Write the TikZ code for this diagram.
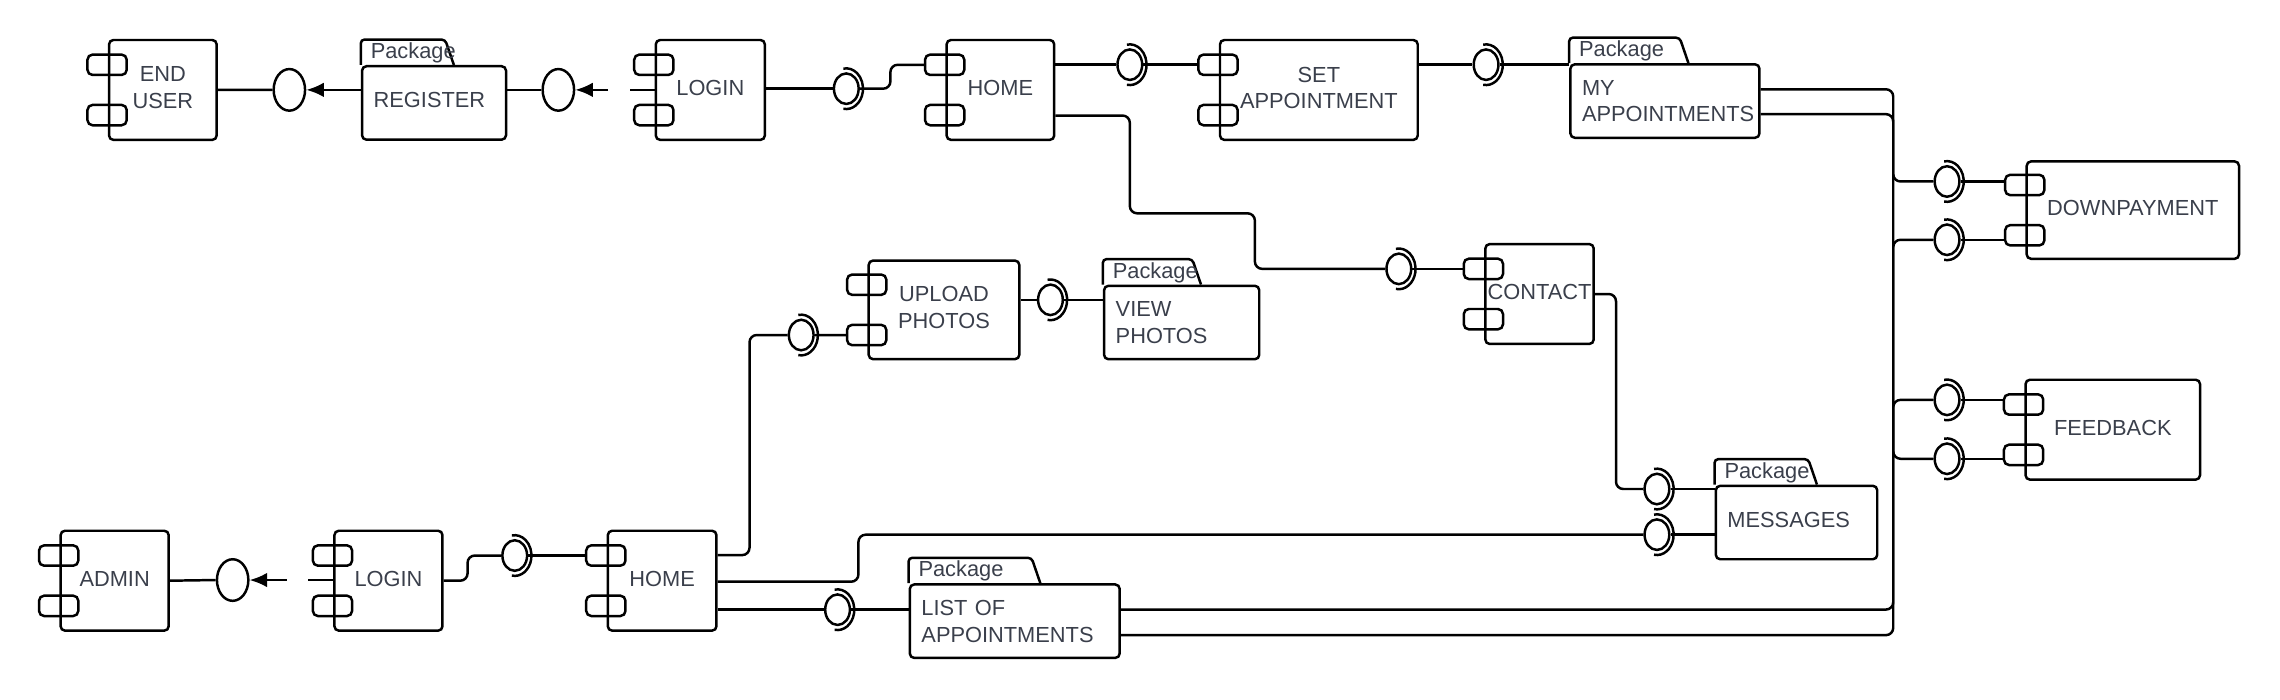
\documentclass[tikz,border=0pt]{standalone}
\usepackage{fontspec}
\setmainfont{Liberation Sans}
\usetikzlibrary{shapes.geometric}
\usetikzlibrary{arrows.meta}
\usetikzlibrary{positioning}
\definecolor{labelgray}{RGB}{58,63,75}
\tikzset{>={Latex[length=12pt,width=10pt]}}
\newcommand{\lbl}{\fontsize{15}{18.3}\selectfont}
\tikzset{
  comp/.style={draw, rounded corners=3pt, align=center, inner sep=0pt, minimum height=68.7pt, text depth=3pt, font=\lbl, text=labelgray},
  pkg/.style={draw, rounded corners=3pt, align=left, inner xsep=8pt, inner ysep=0pt, minimum height=50.5pt, font=\lbl, text=labelgray},
  plug/.style={draw, rounded corners=3.5pt, minimum width=27pt, minimum height=14pt, inner sep=0pt},
  lolli/.style={draw, ellipse, minimum width=21.6pt, minimum height=28.6pt, inner sep=0pt},
  sock/.style={draw, ellipse, minimum width=17pt, minimum height=21pt, inner sep=0pt},
  wire/.style={rounded corners=5pt}
}
% two plugs on the left side of a component
\newcommand{\plugs}[1]{%
  \node[plug] (#1-t1) at ([xshift=-0.5pt,yshift=17.3pt]#1.west) {};
  \node[plug] (#1-t2) at ([xshift=-0.5pt,yshift=-17.3pt]#1.west) {};}
% folder tab of a package
\newcommand{\pkgtab}[2]{%
  \draw[rounded corners=2.5pt] (#1.north west) -- ++(0,-17.5) -- ++(#2-6,0) -- ++(6,17.5);
  \node[anchor=base west, inner sep=0pt, font=\lbl, text=labelgray] (#1-tag) at ([xshift=6pt,yshift=4.5pt]#1.north west) {Package};}

\begin{document}
\begin{tikzpicture}[x=1pt, y=-1pt, line width=1.7pt]
    \useasboundingbox (0,0) rectangle (1568,481.4);

    % user side
    \node[comp, minimum width=74pt] (enduser) at (112,61.85) {END\\USER};
    \plugs{enduser}
    \node[lolli] (l1) at (199,61.8) {};
    \node[pkg, text width=83pt, text depth=4pt] (register) at (298.5,70.8) {REGISTER};
    \pkgtab{register}{64}
    \node[lolli] (l2) at (384,61.8) {};
    \node[comp, minimum width=75pt] (login) at (488.5,61.85) {LOGIN};
    \plugs{login}
    \node[sock] (s1) at (582,61) {};
    \node[comp, minimum width=74pt] (home) at (688,61.85) {HOME};
    \plugs{home}
    \node[sock] (s2) at (777,44.5) {};
    \node[comp, minimum width=136pt] (setapp) at (907,61.85) {SET\\APPOINTMENT};
    \plugs{setapp}
    \node[sock] (s3) at (1022,44.5) {};
    \node[pkg, text width=114pt] (myapp) at (1145,69.5) {MY\\APPOINTMENTS};
    \pkgtab{myapp}{82}
    \node[sock] (s4) at (962,184.9) {};
    \node[comp, minimum width=74.5pt] (contact) at (1058.75,202.2) {CONTACT};
    \plugs{contact}
    \node[sock] (s5) at (1139.5,336.3) {};
    \node[sock] (s6) at (1139.5,367.7) {};
    \node[pkg, text width=95pt, text depth=4pt] (messages) at (1235.5,359.35) {MESSAGES};
    \pkgtab{messages}{70.4}

    % right side
    \coordinate (bus) at (1302,0);
    \node[comp, minimum width=146pt, minimum height=67pt] (downpay) at (1466.8,144.5) {DOWNPAYMENT};
    \plugs{downpay}
    \node[comp, minimum width=120pt] (feedback) at (1453,295.5) {FEEDBACK};
    \plugs{feedback}
    \node[sock] (s7) at (1339,124.8) {};
    \node[sock] (s8) at (1339,164.9) {};
    \node[sock] (s9) at (1339,275) {};
    \node[sock] (s10) at (1339,315.5) {};

    % admin side
    \node[comp, minimum width=74.3pt] (admin) at (78.85,399.35) {ADMIN};
    \plugs{admin}
    \node[lolli] (l3) at (160,398.9) {};
    \node[comp, minimum width=74.3pt] (login2) at (267.15,399.35) {LOGIN};
    \plugs{login2}
    \node[sock] (s11) at (354,382.05) {};
    \node[comp, minimum width=74.7pt] (home2) at (455.35,399.35) {HOME};
    \plugs{home2}
    \node[sock] (s12) at (551,230.4) {};
    \node[comp, minimum width=103.6pt, minimum height=67.8pt] (upload) at (649.2,213.1) {UPLOAD\\PHOTOS};
    \plugs{upload}
    \node[sock] (s13) at (722.4,206.2) {};
    \node[pkg, text width=90.7pt] (viewphotos) at (812.65,221.8) {VIEW\\PHOTOS};
    \pkgtab{viewphotos}{67.5}
    \node[sock] (s14) at (576,419.3) {};
    \node[pkg, text width=128.3pt] (listapp) at (697.85,427.2) {LIST OF\\APPOINTMENTS};
    \pkgtab{listapp}{90.6}

    % sockets
    \foreach \s in {s1,s2,s3,s4,s5,s6,s7,s8,s9,s10,s11,s12,s13,s14}
        \draw (\s.center) ++(100:11.5 and 14) arc[start angle=100, end angle=-100, x radius=11.5, y radius=14];

    % user connectors
    \draw (enduser.east) -- (l1.west);
    \draw[->] (l1.east -| register.west) -- (l1.east);
    \draw (l2.west -| register.east) -- (l2.west);
    \draw[->, dash pattern=on 17pt off 15pt] (l2.east -| login.west) -- (l2.east);
    \draw (s1.west -| login.east) -- (s1.west);
    \draw[wire] (s1.east) -- ++(21,0) |- (home-t1.west);
    \draw (s2.west -| home.east) -- (s2.west);
    \draw (s2.east) -- (s2.east -| setapp-t1.west);
    \draw (s3.west -| setapp.east) -- (s3.west);
    \draw (s3.east) -- (s3.east -| myapp.west);
    \draw[wire] ([yshift=-17.6pt]home.east) -| (777,146.7) -| (863,184.9) -- (s4.west);
    \draw (s4.east) -- (contact-t1.west);
    \draw[wire] (contact.east) -- ++(14.5,0) |- (s5.west);
    \draw (s5.east) -- (s5.east -| messages.west);
    \draw (s6.east) -- (s6.east -| messages.west);

    % bus to downpayment and feedback
    \draw[wire] ([yshift=8.1pt]myapp.east) -| (bus |- s7) -- (s7.west);
    \draw[wire] ([yshift=-9pt]myapp.east) -| (bus |- s10) -- (s10.west);
    \draw[wire] ([yshift=8pt]listapp.east) -| (bus |- s9) -- (s9.west);
    \draw[wire] ([yshift=-9.6pt]listapp.east) -| (bus |- s8) -- (s8.west);
    \draw (s7.east) -- (s7.east -| downpay-t1.west);
    \draw (s8.east) -- (s8.east -| downpay-t2.west);
    \draw (s9.east) -- (s9.east -| feedback-t1.west);
    \draw (s10.east) -- (s10.east -| feedback-t2.west);

    % admin connectors
    \draw (admin.east) -- (l3.west);
    \draw[->, dash pattern=on 17pt off 15pt] (l3.east -| login2.west) -- (l3.east);
    \draw[wire] (login2.east) -- ++(16.4,0) |- (s11.west);
    \draw (s11.east) -- (home2-t1.west);
    \draw[wire] ([yshift=17.6pt]home2.east) -- ++(21.9,0) |- (s12.west);
    \draw (s12.east) -- (upload-t2.west);
    \draw (s13.west -| upload.east) -- (s13.west);
    \draw (s13.east) -- (s13.east -| viewphotos.west);
    \draw[wire] ([yshift=-0.7pt]home2.east) -- ++(96.8,0) |- (s6.west);
    \draw (s14.west -| home2.east) -- (s14.west);
    \draw (s14.east) -- (s14.east -| listapp.west);
\end{tikzpicture}
\end{document}
